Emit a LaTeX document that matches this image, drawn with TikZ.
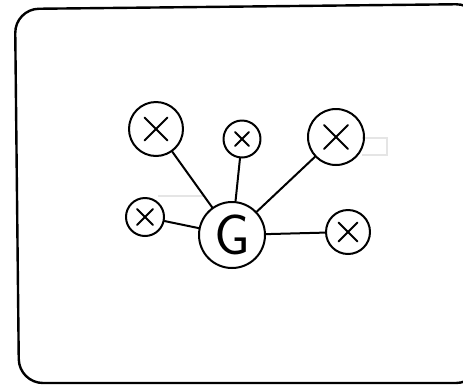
\documentclass[tikz,border=0pt]{standalone}
\usetikzlibrary{calc}
\begin{document}
\begin{tikzpicture}[x=1pt,y=-1pt,
  ink/.style={line width=2pt,line cap=round,line join=round},
  hub/.style={circle,draw,ink,minimum size=66pt,inner sep=0pt},
  leaf/.style={circle,draw,ink,inner sep=0pt},
  ghost/.style={draw=black!10,line width=1.5pt},
  link/.style={ink}]
\useasboundingbox (0,0) rectangle (463,384);
% outer frame
\draw[line width=2.4pt,rounded corners=24pt]
  (15,9) -- (480,4) -- (480,383) -- (19,383) -- cycle;
% faint guide marks
\draw[ghost] (158,196) -- (205,196);
\draw[ghost] (362,138) -- (387,138) -- (387,155) -- (362,155);
% nodes
\node[hub] (g) at (232,235) {\fontsize{57}{57}\sffamily G};
\node[leaf,minimum size=54pt] (a) at (156,129) {};
\node[leaf,minimum size=37pt] (b) at (242,139) {};
\node[leaf,minimum size=56pt] (c) at (336,137) {};
\node[leaf,minimum size=38pt] (d) at (145,217) {};
\node[leaf,minimum size=44pt] (e) at (348,232) {};
% crosses
\foreach \n/\s in {a/11.5,b/7,c/12,d/8,e/9.5}{
  \draw[ink] ($(\n)+(-\s,-\s)$) -- ($(\n)+(\s,\s)$);
  \draw[ink] ($(\n)+(\s,-\s)$) -- ($(\n)+(-\s,\s)$);
}
% spokes
\foreach \n in {a,b,c,d,e} \draw[link] (g) -- (\n);
\end{tikzpicture}
\end{document}
